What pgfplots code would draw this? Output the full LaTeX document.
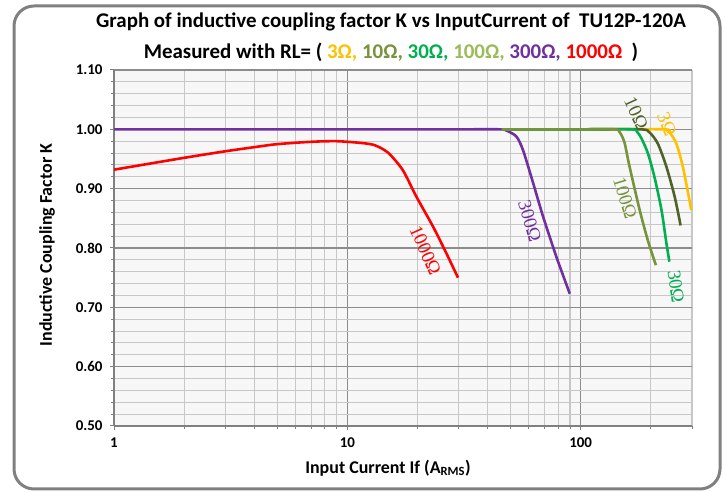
\documentclass[border=0pt]{standalone}
\usepackage{pgfplots}
\pgfplotsset{compat=1.18}
\usepackage{fontspec}
\setmainfont{Carlito}
\newfontfamily\lblfont{Liberation Serif}
\definecolor{cA}{HTML}{FFC000}
\definecolor{cBt}{HTML}{77933C}
\definecolor{cB}{HTML}{4F6228}
\definecolor{cC}{HTML}{00B050}
\definecolor{cDt}{HTML}{9BBB59}
\definecolor{cD}{HTML}{77933C}
\definecolor{cE}{HTML}{7030A0}
\definecolor{cF}{HTML}{FF0000}
\begin{document}
\begin{tikzpicture}[x=1bp,y=1bp]
\useasboundingbox (0,0) rectangle (725,492);
\draw[line width=3bp, color=black!50, rounded corners=20bp] (14,3) rectangle (720,486);
\node[font=\bfseries\fontsize{21}{24}\selectfont] at (391,470) {Graph of inductive coupling factor K vs InputCurrent of\ \ TU12P-120A};
\node[font=\bfseries\fontsize{21}{24}\selectfont] at (391,440) {Measured with RL= ( {\color{cA}3Ω,} {\color{cBt}10Ω,} {\color{cC}30Ω,} {\color{cDt}100Ω,} {\color{cE}300Ω,} {\color{cF}1000Ω}\ \ )};
\node[font=\bfseries\fontsize{18}{20}\selectfont, rotate=90] at (47,247) {Inductive Coupling Factor K};
\node[font=\bfseries\fontsize{18}{20}\selectfont] at (388,24) {Input Current If (A\textsubscript{RMS})};
\begin{axis}[
  at={(114bp,66bp)}, anchor=south west,
  scale only axis, width=578bp, height=356bp,
  xmode=log, xmin=1, xmax=300, ymin=0.5, ymax=1.1,
  enlargelimits=false,
  axis background/.style={fill=black!3},
  xtick={1,10,100}, xticklabels={1,10,100},
  minor xtick={2,3,4,5,6,7,8,9,20,30,40,50,60,70,80,90,200,300},
  ytick={0.5,0.6,0.7,0.8,0.9,1.0,1.1},
  minor y tick num=4,
  yticklabel style={/pgf/number format/fixed, /pgf/number format/fixed zerofill, /pgf/number format/precision=2},
  /pgf/number format/assume math mode=true,
  ticklabel style={font=\bfseries\fontsize{15}{17}\selectfont},
  grid=both,
  major grid style={line width=1.3bp, color=black!45},
  minor grid style={line width=1.1bp, color=black!22},
  axis lines*=left,
  axis line style={line width=1.5bp, color=black!50},
  tick align=outside,
  major tick length=4bp, minor tick length=3bp,
  tick style={color=black!50, line width=1bp},
  xticklabel style={yshift=-4bp},
  yticklabel style={xshift=-4bp},
  every axis plot/.append style={line width=2.6bp, smooth, tension=0.45},
  clip=false,
]
% 1000 ohm
\addplot[cF] coordinates {(1,0.932) (2,0.952) (3,0.963) (4,0.970) (5,0.975) (7,0.979) (9,0.980) (11.5,0.977) (12.9,0.974) (14,0.968) (15.2,0.958) (17.3,0.931) (19.8,0.886) (23.3,0.836) (26.5,0.792) (29.8,0.750)};
% 300 ohm
\addplot[cE] coordinates {(1,1.0) (10,1.0) (30,1.0) (45,1.0) (48,0.998) (53,0.988) (56.6,0.965) (62.6,0.909) (69,0.853) (78.7,0.785) (89.8,0.723)};
% 3 ohm
\addplot[cA] coordinates {(46,1.0) (100,1.0) (225,1.0) (240,0.995) (257,0.976) (274,0.937) (298,0.864)};
% 10 ohm
\addplot[cB] coordinates {(46,1.0) (100,1.0) (180,1.0) (197,0.995) (214,0.976) (233,0.937) (253,0.886) (268,0.838)};
% 30 ohm
\addplot[cC] coordinates {(46,1.0) (100,1.0) (165,1.0) (175,0.995) (182,0.985) (194,0.96) (207,0.92) (222,0.864) (233,0.808) (240,0.777)};
% 100 ohm
\addplot[cD] coordinates {(46,1.0) (100,1.0) (140,1.0) (147,0.995) (154,0.978) (162,0.937) (179,0.864) (194,0.813) (210,0.771)};
\node[cF, font=\lblfont\fontsize{19}{21}\selectfont, rotate=-66] at (axis cs:21.6,0.796) {1000Ω};
\node[cE, font=\lblfont\fontsize{19}{21}\selectfont, rotate=-74] at (axis cs:60.5,0.845) {300Ω};
\node[cD, font=\lblfont\fontsize{19}{21}\selectfont, rotate=-73] at (axis cs:155,0.884) {100Ω};
\node[cC, font=\lblfont\fontsize{19}{21}\selectfont, rotate=-82] at (axis cs:256,0.735) {30Ω};
\node[cB, font=\lblfont\fontsize{19}{21}\selectfont, rotate=-65] at (axis cs:173,1.027) {10Ω};
\node[cA, font=\lblfont\fontsize{19}{21}\selectfont, rotate=-68] at (axis cs:234,1.009) {3Ω};
\end{axis}
\end{tikzpicture}
\end{document}
